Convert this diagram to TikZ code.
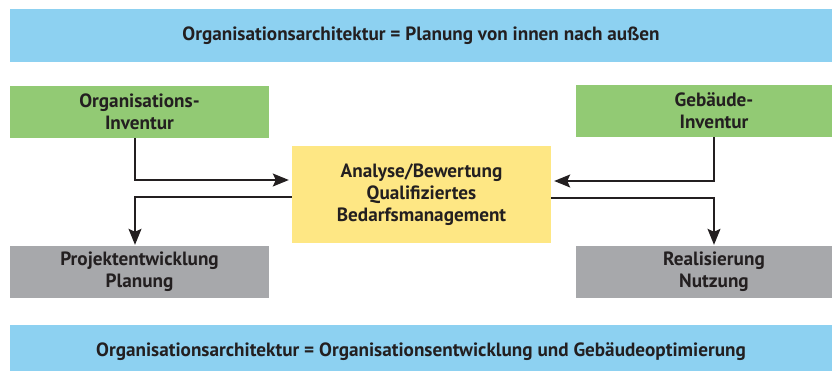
\documentclass[tikz,border=0pt]{standalone}
\usepackage{fontspec}
\setmainfont{PT Sans}
\usetikzlibrary{arrows.meta,calc}

\definecolor{bannerblue}{RGB}{141,209,241}
\definecolor{invgreen}{RGB}{146,202,116}
\definecolor{coreyellow}{RGB}{254,231,132}
\definecolor{outgray}{RGB}{167,168,171}
\definecolor{ink}{RGB}{35,31,32}

\begin{document}
\begin{tikzpicture}[x=1pt, y=-1pt,
  box/.style={inner sep=0pt, align=center, text=ink, minimum height=52pt,
    font=\fontsize{19.2}{22}\selectfont\bfseries},
  banner/.style={box, fill=bannerblue, minimum width=822pt, minimum height=53pt},
  flow/.style={draw=ink, line width=1.2pt, -{Stealth[length=16pt, width=13pt, inset=3pt]}}]
  \useasboundingbox (0,0) rectangle (832,370);
  \clip (0,0) rectangle (832,370);

  % banners
  \node[banner] (inout) at (421,35.5) {Organisationsarchitektur = Planung von innen nach außen};
  \node[banner] (summary) at (421,351.5) {Organisationsarchitektur = Organisationsentwicklung und Gebäudeoptimierung};

  % inventories
  \node[box, fill=invgreen, minimum width=259pt] (orginv) at (139.5,112) {Organisations-\\Inventur};
  \node[box, fill=invgreen, minimum width=276pt] (bldinv) at (714,111) {Gebäude-\\Inventur};

  % center
  \node[box, fill=coreyellow, minimum width=259pt, minimum height=97pt] (analysis) at (421.5,194.5)
    {Analyse/Bewertung\\Qualifiziertes\\Bedarfsmanagement};

  % results
  \node[box, fill=outgray, minimum width=259pt] (project) at (139.5,272) {Projektentwicklung\\Planung};
  \node[box, fill=outgray, minimum width=276pt] (realize) at (714,272) {Realisierung\\Nutzung};

  % connectors
  \draw[flow] ($(orginv.south)+(-4.5,0)$) |- ($(analysis.west)+(-3,-14.5)$);
  \draw[flow] ($(analysis.west)+(0,2.5)$) -| ($(project.north)+(-4.5,-1)$);
  \draw[flow] (bldinv.south) |- ($(analysis.east)+(3,-13.5)$);
  \draw[flow] ($(analysis.east)+(0,3.5)$) -| ($(realize.north)+(0,-1)$);
\end{tikzpicture}
\end{document}
